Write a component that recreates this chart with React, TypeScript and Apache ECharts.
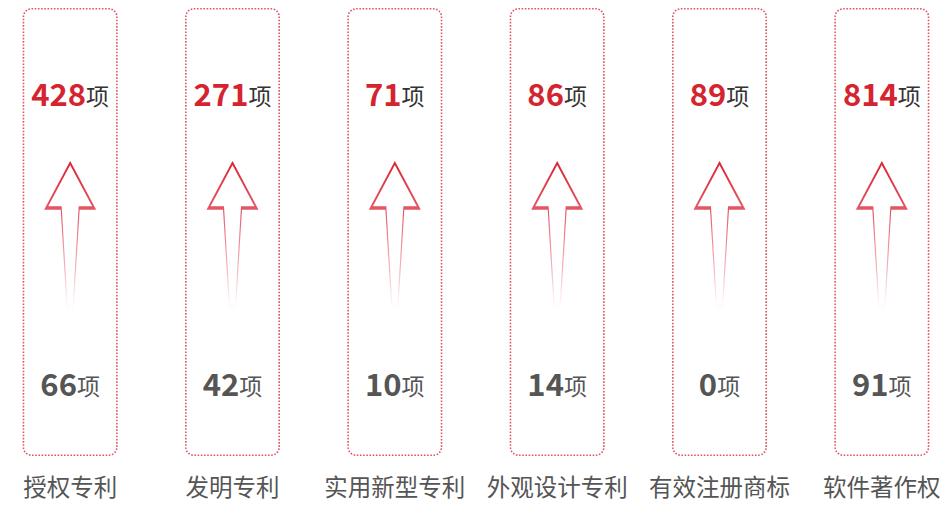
import React, { useEffect, useRef } from "react";
import * as echarts from "echarts";

const categories = ["授权专利", "发明专利", "实用新型专利", "外观设计专利", "有效注册商标", "软件著作权"];
const totalValues = [428, 271, 71, 86, 89, 814];
const newValues = [66, 42, 10, 14, 0, 91];
const unit = "项";

const Y_MAX = 448;
const TOP_Y = 364;
const ARROW_Y = 221;
const BOTTOM_Y = 74;

const FONT = '"Noto Sans CJK SC", "Noto Sans", sans-serif';

export default function App() {
  const ref = useRef<HTMLDivElement>(null);
  useEffect(() => {
    if (!ref.current) return;
    const chart = echarts.init(ref.current, undefined, { renderer: "svg" });
    chart.setOption({
      animation: false,
      textStyle: { fontFamily: FONT },
      grid: { left: -11, right: -12, top: 8, bottom: 50, outerBoundsMode: "none", containLabel: false },
      xAxis: {
        type: "category",
        data: categories,
        axisLine: { show: false },
        axisTick: { show: false },
        axisLabel: { fontSize: 23.5, color: "#555", margin: 18, interval: 0, fontFamily: FONT },
      },
      yAxis: { type: "value", min: 0, max: Y_MAX, show: false, splitLine: { show: false } },
      series: [
        {
          type: "bar",
          data: categories.map(() => Y_MAX),
          barWidth: 95,
          silent: true,
          itemStyle: {
            color: "rgba(0,0,0,0)",
            borderColor: "#e05565",
            borderWidth: 1.6,
            borderType: "dotted",
            borderRadius: 8,
          },
        },
        {
          type: "scatter",
          symbol: "path://M24,0 L48,45 L33,45 L27,144 L21,144 L15,45 L0,45 Z",
          symbolSize: [48, 144],
          data: categories.map((c) => [c, ARROW_Y]),
          silent: true,
          itemStyle: {
            color: "rgba(0,0,0,0)",
            borderWidth: 2,
            opacity: 1,
            borderColor: new echarts.graphic.LinearGradient(0, 0, 0, 1, [
              { offset: 0, color: "rgba(217,40,52,1)" },
              { offset: 0.35, color: "rgba(226,72,88,0.9)" },
              { offset: 0.75, color: "rgba(236,112,128,0.5)" },
              { offset: 1, color: "rgba(245,150,160,0.03)" },
            ]),
          },
        },
        {
          type: "scatter",
          symbolSize: 0,
          data: categories.map((c, i) => [c, TOP_Y, totalValues[i]]),
          silent: true,
          itemStyle: { opacity: 1 },
          label: {
            show: true,
            position: "inside",
            formatter: (p: any) => `{a|${p.data[2]}}{b|${unit}}`,
            rich: {
              a: { fontSize: 31, fontWeight: "bold", color: "#d42430", fontFamily: FONT },
              b: { fontSize: 23, color: "#333", fontFamily: FONT, padding: [5, 0, 0, 0] },
            },
          },
        },
        {
          type: "scatter",
          symbolSize: 0,
          data: categories.map((c, i) => [c, BOTTOM_Y, newValues[i]]),
          silent: true,
          itemStyle: { opacity: 1 },
          label: {
            show: true,
            position: "inside",
            formatter: (p: any) => `{a|${p.data[2]}}{b|${unit}}`,
            rich: {
              a: { fontSize: 31, fontWeight: "bold", color: "#555", fontFamily: FONT },
              b: { fontSize: 23, color: "#555", fontFamily: FONT, padding: [5, 0, 0, 0] },
            },
          },
        },
      ],
    });
    return () => chart.dispose();
  }, []);
  return <div ref={ref} style={{ width: 951, height: 506, position: "absolute", left: 0, top: 0 }} />;
}
